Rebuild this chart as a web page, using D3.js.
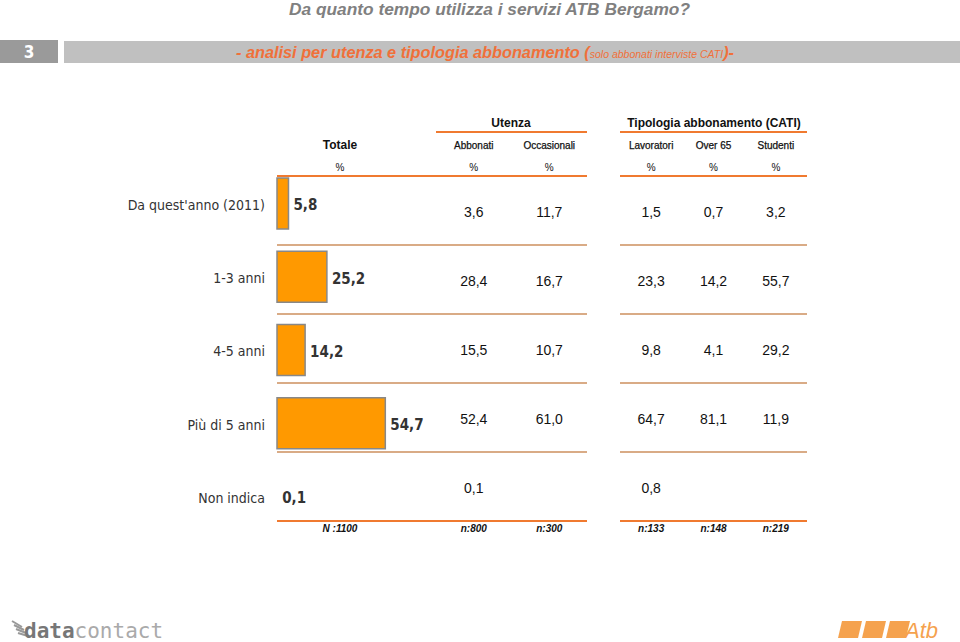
<!DOCTYPE html>
<html><head><meta charset="utf-8">
<script src="https://cdn.jsdelivr.net/npm/d3@7"></script>
<style>body{margin:0;background:#fff}svg{display:block}</style>
</head><body>
<svg id="c" width="960" height="642"></svg>
<script>
const categories = ["Da quest'anno (2011)", "1-3 anni", "4-5 anni", "Più di 5 anni", "Non indica"];
const totale      = [5.8, 25.2, 14.2, 54.7, 0.1];
const abbonati    = [3.6, 28.4, 15.5, 52.4, 0.1];
const occasionali = [11.7, 16.7, 10.7, 61.0, null];
const lavoratori  = [1.5, 23.3, 9.8, 64.7, 0.8];
const over65      = [0.7, 14.2, 4.1, 81.1, null];
const studenti    = [3.2, 55.7, 29.2, 11.9, null];
const utenzaCols  = ["Abbonati", "Occasionali"];
const tipologiaCols = ["Lavoratori", "Over 65", "Studenti"];
const nLabels = ["N :1100", "n:800", "n:300", "n:133", "n:148", "n:219"];

const svg = d3.select("#c");
const loc = d3.formatLocale({decimal: ",", thousands: ".", grouping: [3], currency: ["", "€"]});
const fmt = loc.format(".1f");

const ORANGE = "#f07a30", TAN = "#d9ab86";
const VF = "DejaVu Sans Condensed, DejaVu Sans, Verdana, sans-serif";

// title
svg.append("text").attr("x", 289).attr("y", 15).attr("textLength", 401).attr("lengthAdjust", "spacingAndGlyphs")
  .attr("font-family", "Liberation Sans, Arial, sans-serif").attr("font-weight", "bold").attr("font-style", "italic")
  .attr("font-size", 17).attr("fill", "#808080").text("Da quanto tempo utilizza i servizi ATB Bergamo?");

// band
svg.append("rect").attr("x", 0).attr("y", 40).attr("width", 58).attr("height", 23).attr("fill", "#9a9a9a");
svg.append("text").attr("x", 29).attr("y", 58).attr("text-anchor", "middle").attr("font-family", VF)
  .attr("font-weight", "bold").attr("font-size", 17).attr("fill", "#fff").text("3");
svg.append("rect").attr("x", 64).attr("y", 41).attr("width", 896).attr("height", 22).attr("fill", "#c0c0c0");
const sub = svg.append("text").attr("x", 236).attr("y", 58).attr("font-family", "Liberation Sans, Arial, sans-serif").attr("font-style", "italic").attr("fill", "#f0703a");
sub.append("tspan").attr("font-weight", "bold").attr("font-size", 16.3).text("-  analisi per utenza e tipologia abbonamento (");
sub.append("tspan").attr("font-size", 10.5).text("solo abbonati interviste CATI");
sub.append("tspan").attr("font-weight", "bold").attr("font-size", 16.3).text(")-");

// column scales
const xUt = d3.scaleBand().domain(utenzaCols).range([436, 587]);
const xTi = d3.scaleBand().domain(tipologiaCols).range([620, 807]);
const xTot = 340;
const colX = [xTot, xUt("Abbonati") + xUt.bandwidth()/2, xUt("Occasionali") + xUt.bandwidth()/2,
  xTi("Lavoratori") + xTi.bandwidth()/2, xTi("Over 65") + xTi.bandwidth()/2, xTi("Studenti") + xTi.bandwidth()/2];

const AR = "Liberation Sans, Arial, sans-serif";
// group headers
svg.append("text").attr("x", 511).attr("y", 127).attr("text-anchor", "middle").attr("font-family", AR).attr("font-weight", "bold").attr("font-size", 12).attr("fill", "#111").text("Utenza");
svg.append("text").attr("x", 714).attr("y", 127).attr("text-anchor", "middle").attr("font-family", AR).attr("font-weight", "bold").attr("font-size", 12).attr("fill", "#111").text("Tipologia abbonamento (CATI)");
[[436, 587], [620, 807]].forEach(([a, b]) => svg.append("line").attr("x1", a).attr("x2", b).attr("y1", 132).attr("y2", 132).attr("stroke", ORANGE).attr("stroke-width", 2));

const colNames = ["Totale"].concat(utenzaCols, tipologiaCols);
colNames.forEach((n, i) => {
  svg.append("text").attr("x", colX[i]).attr("y", 149).attr("text-anchor", "middle").attr("font-family", AR)
    .attr("font-weight", i === 0 ? "bold" : "normal").attr("font-size", i === 0 ? 12 : 10).attr("fill", "#111")
    .attr("stroke", i === 0 ? "none" : "#111").attr("stroke-width", 0.25).text(n);
  svg.append("text").attr("x", colX[i]).attr("y", 171).attr("text-anchor", "middle").attr("font-family", AR)
    .attr("font-size", 10).attr("fill", "#111").text("%");
  svg.append("text").attr("x", colX[i]).attr("y", 532).attr("text-anchor", "middle").attr("font-family", AR)
    .attr("font-weight", "bold").attr("font-style", "italic").attr("font-size", 10).attr("fill", "#111").text(nLabels[i]);
});

// grid lines
const lineY = d3.scaleLinear().domain([0, 5]).range([176, 521]);
d3.range(6).forEach(i => {
  const c = (i === 0 || i === 5) ? ORANGE : TAN;
  [[277, 587], [620, 807]].forEach(([a, b]) => svg.append("line").attr("x1", a).attr("x2", b).attr("y1", lineY(i)).attr("y2", lineY(i)).attr("stroke", c).attr("stroke-width", 2));
});

// bars
const yRow = d3.scalePoint().domain(categories).range([205, 498]);
const x = d3.scaleLinear().domain([0, 100]).range([277, 475]);
const barH = 51;
const rows = categories.map((c, i) => ({c, v: totale[i], i}));
svg.selectAll("rect.bar").data(rows).join("rect").attr("class", "bar")
  .attr("x", x(0)).attr("y", d => yRow(d.c) - 1.5 - barH/2).attr("width", d => x(d.v) - x(0)).attr("height", barH)
  .attr("fill", "#ff9900").attr("fill-opacity", d => (x(d.v) - x(0)) < 1 ? 0 : 1)
  .attr("stroke", "#888").attr("stroke-width", d => (x(d.v) - x(0)) < 1 ? 0 : 1.5);
svg.selectAll("text.cat").data(rows).join("text").attr("class", "cat")
  .attr("x", 265).attr("y", d => yRow(d.c)).attr("dy", "0.35em").attr("text-anchor", "end")
  .attr("font-family", VF).attr("font-size", 14).attr("fill", "#333").text(d => d.c);
svg.selectAll("text.tot").data(rows).join("text").attr("class", "tot")
  .attr("x", d => x(d.v) + 5).attr("y", d => yRow(d.c)).attr("dy", "0.35em")
  .attr("font-family", VF).attr("font-weight", "bold").attr("font-size", 15).attr("fill", "#333").text(d => fmt(d.v));

// table values
const series = [abbonati, occasionali, lavoratori, over65, studenti];
series.forEach((s, k) => {
  s.forEach((v, i) => {
    if (v === null) return;
    svg.append("text").attr("x", colX[k + 1]).attr("y", lineY(i + 1) - 33).attr("dy", "0.35em").attr("text-anchor", "middle")
      .attr("font-family", AR).attr("font-size", 14).attr("fill", "#111").text(fmt(v));
  });
});

// logos
const dc = svg.append("g");
[0, 1, 2, 3].forEach(i => dc.append("line").attr("x1", 12 + i*2).attr("y1", 621 + i*4).attr("x2", 22 + i*2).attr("y2", 627 + i*3).attr("stroke", "#999").attr("stroke-width", 2));
const dt = dc.append("text").attr("x", 24).attr("y", 638).attr("font-family", "DejaVu Sans Mono, monospace").attr("font-weight", "bold").attr("font-size", 21);
dt.append("tspan").attr("fill", "#777").text("data");
dt.append("tspan").attr("fill", "#aaa").attr("font-weight", "normal").text("contact");
const atb = svg.append("g").attr("fill", "#f5a24e");
[0, 1, 2].forEach(i => atb.append("path").attr("d", `M${842 + i*24},621 L${862 + i*24},621 L${858 + i*24},638 L${838 + i*24},638 Z`));
atb.append("text").attr("x", 905).attr("y", 638).attr("font-family", AR).attr("font-style", "italic").attr("font-size", 22).text("Atb");
</script>
</body></html>
